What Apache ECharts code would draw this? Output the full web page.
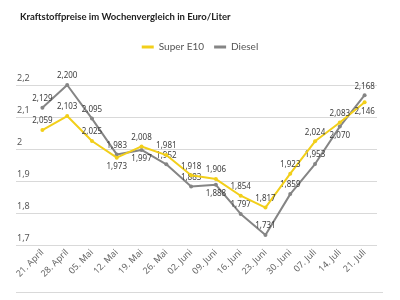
<!DOCTYPE html>
<html lang="de">
<head>
  <meta charset="UTF-8">
  <title>Kraftstoffpreise</title>
  <style>
    html, body { margin: 0; padding: 0; background: #fff; }
    #chart { width: 400px; height: 300px; }
  </style>
  <script src="https://cdn.jsdelivr.net/npm/echarts@6/dist/echarts.min.js"></script>
</head>
<body>
<div id="chart"></div>
<script>
  const weeks = ['21. April', '28. April', '05. Mai', '12. Mai', '19. Mai', '26. Mai', '02. Juni',
    '09. Juni', '16. Juni', '23. Juni', '30. Juni', '07. Juli', '14. Juli', '21. Juli'];
  const superE10 = [2.059, 2.103, 2.025, 1.973, 2.008, 1.981, 1.918, 1.906, 1.854, 1.817, 1.923, 2.024, 2.083, 2.146];
  const diesel = [2.129, 2.200, 2.095, 1.983, 1.997, 1.952, 1.883, 1.888, 1.797, 1.731, 1.859, 1.953, 2.070, 2.168];
  const yTicks = [1.7, 1.8, 1.9, 2.0, 2.1, 2.2];

  // wo die Werte-Beschriftung unter dem Punkt steht
  const e10Below = [3, 13];
  const dieselBelow = [4, 7, 12];

  const fmt = v => v.toFixed(3).replace('.', ',');
  const tickFmt = v => String(+v.toFixed(1)).replace('.', ',');

  const chart = echarts.init(document.getElementById('chart'));

  function points(values, below) {
    return values.map((v, i) => ({
      value: v,
      label: { position: below.includes(i) ? 'bottom' : 'top' }
    }));
  }

  const labelStyle = {
    show: true, fontSize: 8, color: '#404040', distance: 3,
    fontFamily: 'Noto Sans', formatter: p => fmt(p.value)
  };

  chart.setOption({
    animation: false,
    title: {
      text: 'Kraftstoffpreise im Wochenvergleich in Euro/Liter',
      left: 15, top: 7,
      textStyle: { fontSize: 9.5, fontWeight: 'bold', color: '#222', fontFamily: 'Lato' }
    },
    legend: {
      top: 37, left: 'center',
      icon: 'rect', itemWidth: 12, itemHeight: 3, itemGap: 10,
      textStyle: { fontSize: 10, color: '#555', fontFamily: 'Lato' },
      data: ['Super E10', 'Diesel']
    },
    grid: [
      { left: 16, right: 23, top: 85, height: 160 },
      { left: 30, right: 23, top: 85, height: 160 }
    ],
    xAxis: [
      { gridIndex: 0, type: 'category', data: weeks, show: false },
      {
        gridIndex: 1, type: 'category', data: weeks, boundaryGap: true,
        axisLine: { show: false }, axisTick: { show: false },
        axisLabel: { rotate: 45, fontSize: 9, color: '#666', margin: 6, fontFamily: 'Noto Sans', interval: 0 }
      }
    ],
    yAxis: [
      {
        gridIndex: 0, type: 'value', min: 1.7, max: 2.2, interval: 0.1,
        axisLine: { show: false }, axisTick: { show: false },
        splitLine: { lineStyle: { color: '#d9d9d9', width: 1 } },
        axisLabel: {
          inside: true, margin: 1, verticalAlign: 'bottom', padding: [0, 0, 2, 0],
          fontSize: 9, color: '#595959', fontFamily: 'Noto Sans',
          formatter: v => yTicks.some(t => Math.abs(t - v) < 1e-6) ? tickFmt(v) : ''
        }
      },
      { gridIndex: 1, type: 'value', min: 1.7, max: 2.2, show: false, splitLine: { show: false } }
    ],
    series: [
      {
        name: 'Super E10', type: 'line', xAxisIndex: 1, yAxisIndex: 1,
        data: points(superE10, e10Below),
        color: '#f2cf1a', symbol: 'circle', symbolSize: 4,
        lineStyle: { width: 2 }, label: labelStyle, z: 3
      },
      {
        name: 'Diesel', type: 'line', xAxisIndex: 1, yAxisIndex: 1,
        data: points(diesel, dieselBelow),
        color: '#858585', symbol: 'circle', symbolSize: 4,
        lineStyle: { width: 2 }, label: labelStyle, z: 2
      }
    ],
    graphic: [{
      type: 'line', shape: { x1: 16, y1: 292.5, x2: 383, y2: 292.5 },
      style: { stroke: '#d9d9d9', lineWidth: 1 }
    }]
  });
</script>
</body>
</html>
